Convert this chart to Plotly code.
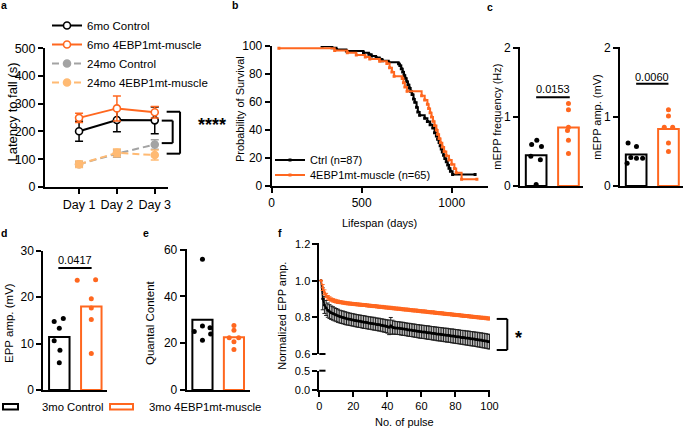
import numpy as np
import plotly.graph_objects as go

W, H = 685, 429
FONT = "Liberation Sans, Arial, Helvetica, sans-serif"
ORANGE = "#FF671F"
LIGHT_ORANGE = "#FFBA73"
GRAY = "#A3A3A3"


def px(x):
    return x / W


def py(y):
    return 1 - y / H


# ---------------- data ----------------
# panel a : rotarod
days = ["Day 1", "Day 2", "Day 3"]
ctrl6_mean = [201, 241, 240]
ctrl6_sem = [36, 42, 48]
mut6_mean = [249, 283, 269]
mut6_sem = [17, 45, 21]
ctrl24_mean = [82, 120, 153]
ctrl24_sem = [10, 13, 17]
mut24_mean = [82, 123, 115]
mut24_sem = [12, 14, 18]

# panel b : survival (step points)
ctrl_days = [280, 335, 360, 415, 510, 540, 555, 580, 600, 615, 650, 705, 712, 720, 728,
             735, 742, 750, 757, 765, 772, 780, 788, 795, 805, 812, 822, 850, 865, 880, 895,
             905, 915, 922, 930, 936, 942, 948, 955, 962, 970, 978, 985, 993, 1005, 1130]
ctrl_surv = [100, 98.9, 97.7, 96.6, 95.4, 94.3, 93.1, 92.0, 90.8, 89.7, 88.5, 87.4, 86.2,
             83.9, 81.6, 79.3, 77.0, 74.7, 72.4, 70.1, 67.8, 65.5, 62.1, 59.8, 56.3, 52.9, 50.6,
             48.3, 46.0, 43.7, 41.4, 38.0, 35.6, 33.3, 31.0, 28.7, 26.4, 24.1, 21.8, 19.5, 17.2,
             14.9, 12.6, 10.3, 8.0, 8.0]
mut_days = [40, 350, 420, 470, 520, 545, 600, 640, 655, 668, 680, 725, 732, 740, 752, 833, 850,
            865, 872, 880, 888, 896, 905, 915, 922, 930, 938, 948, 958, 970, 985, 1000, 1015,
            1025, 1055, 1140]
mut_surv = [98.5, 96.9, 95.4, 93.8, 92.3, 90.8, 89.2, 87.7, 84.6, 81.5, 78.5, 76.9, 73.8, 70.8,
            67.7, 64.6, 61.5, 58.5, 55.4, 52.3, 49.2, 46.2, 43.1, 40.0, 36.9, 33.8, 30.8, 27.7,
            24.6, 21.5, 18.5, 15.4, 12.3, 9.2, 4.6, 4.6]

# panels c, d, e : per-animal values
mepp_freq_ctrl = [0.60, 0.66, 0.57, 0.43, 0.38, 0.02]
mepp_freq_mut = [1.19, 1.10, 0.85, 0.80, 0.66, 0.47]
mepp_amp_ctrl = [0.62, 0.57, 0.41, 0.40, 0.40, 0.33]
mepp_amp_mut = [1.10, 1.01, 0.85, 0.85, 0.62, 0.50]
epp_amp_ctrl = [14.8, 15.4, 13.3, 10.6, 8.6, 5.9]
epp_amp_mut = [23.7, 23.8, 19.7, 17.7, 15.2, 7.9]
qc_ctrl = [55.8, 25.0, 27.3, 26.6, 23.9, 21.3]
qc_mut = [27.5, 25.5, 22.3, 22.3, 20.6, 17.3]
p_freq, p_amp, p_epp = "0.0153", "0.0060", "0.0417"

# panel f : normalized EPP amplitude, pulses 1..100
pulse_no = list(range(1, 101))
f_upper_ticks = [0.6, 0.8, 1.0, 1.2]
f_upper_ticktext = ["0.6", "0.8", "1.0", "1.2"]
f_ctrl_mean = [1.000, 0.900, 0.866, 0.850, 0.838, 0.830, 0.824, 0.820, 0.815, 0.811,
               0.807, 0.803, 0.800, 0.798, 0.795, 0.792, 0.790, 0.788, 0.786, 0.784,
               0.782, 0.780, 0.778, 0.777, 0.775, 0.773, 0.772, 0.770, 0.768, 0.767,
               0.765, 0.764, 0.762, 0.760, 0.759, 0.757, 0.755, 0.753, 0.751, 0.748,
               0.744, 0.752, 0.745, 0.742, 0.741, 0.740, 0.739, 0.737, 0.736, 0.735,
               0.733, 0.731, 0.730, 0.729, 0.727, 0.726, 0.724, 0.723, 0.721, 0.720,
               0.719, 0.718, 0.716, 0.715, 0.714, 0.712, 0.711, 0.710, 0.708, 0.707,
               0.706, 0.705, 0.703, 0.702, 0.701, 0.700, 0.698, 0.697, 0.696, 0.694,
               0.693, 0.692, 0.690, 0.689, 0.688, 0.686, 0.685, 0.684, 0.682, 0.681,
               0.680, 0.678, 0.677, 0.675, 0.674, 0.672, 0.671, 0.669, 0.667, 0.665]
f_ctrl_sem = [0.000, 0.060, 0.046, 0.041, 0.039, 0.038, 0.037, 0.037, 0.036, 0.036,
              0.036, 0.035, 0.035, 0.035, 0.035, 0.035, 0.034, 0.034, 0.034, 0.034,
              0.034, 0.034, 0.034, 0.034, 0.034, 0.035, 0.034, 0.034, 0.034, 0.034,
              0.034, 0.035, 0.034, 0.034, 0.035, 0.034, 0.035, 0.035, 0.035, 0.036,
              0.040, 0.046, 0.038, 0.036, 0.035, 0.035, 0.035, 0.035, 0.036, 0.035,
              0.035, 0.035, 0.036, 0.035, 0.035, 0.036, 0.035, 0.036, 0.036, 0.036,
              0.036, 0.036, 0.036, 0.037, 0.036, 0.036, 0.037, 0.036, 0.037, 0.037,
              0.037, 0.037, 0.037, 0.037, 0.038, 0.037, 0.037, 0.038, 0.038, 0.038,
              0.038, 0.038, 0.038, 0.038, 0.039, 0.038, 0.039, 0.039, 0.039, 0.039,
              0.039, 0.039, 0.040, 0.039, 0.040, 0.040, 0.040, 0.040, 0.040, 0.040]
f_mut_mean = [1.000, 0.962, 0.936, 0.919, 0.908, 0.901, 0.896, 0.892, 0.889, 0.886,
              0.884, 0.882, 0.881, 0.879, 0.878, 0.876, 0.875, 0.874, 0.873, 0.872,
              0.871, 0.870, 0.869, 0.868, 0.867, 0.866, 0.866, 0.864, 0.863, 0.862,
              0.861, 0.860, 0.860, 0.858, 0.857, 0.856, 0.856, 0.854, 0.853, 0.852,
              0.851, 0.851, 0.849, 0.848, 0.847, 0.846, 0.846, 0.844, 0.843, 0.842,
              0.841, 0.841, 0.839, 0.838, 0.837, 0.836, 0.836, 0.834, 0.833, 0.832,
              0.831, 0.831, 0.829, 0.828, 0.827, 0.826, 0.826, 0.824, 0.823, 0.822,
              0.821, 0.821, 0.819, 0.818, 0.817, 0.816, 0.816, 0.814, 0.813, 0.812,
              0.811, 0.811, 0.809, 0.808, 0.807, 0.806, 0.806, 0.804, 0.803, 0.802,
              0.801, 0.800, 0.799, 0.798, 0.797, 0.796, 0.796, 0.794, 0.793, 0.792]
f_mut_sem = [0.000, 0.016, 0.013, 0.011, 0.010, 0.010, 0.009, 0.009, 0.009, 0.009,
             0.009, 0.008, 0.008, 0.008, 0.008, 0.008, 0.008, 0.008, 0.008, 0.008,
             0.008, 0.008, 0.008, 0.008, 0.008, 0.008, 0.008, 0.008, 0.008, 0.008,
             0.008, 0.008, 0.008, 0.008, 0.008, 0.008, 0.008, 0.008, 0.008, 0.008,
             0.008, 0.008, 0.008, 0.008, 0.008, 0.008, 0.008, 0.008, 0.008, 0.008,
             0.008, 0.008, 0.008, 0.008, 0.008, 0.008, 0.008, 0.008, 0.008, 0.008,
             0.008, 0.008, 0.008, 0.008, 0.008, 0.008, 0.008, 0.008, 0.008, 0.008,
             0.008, 0.008, 0.008, 0.008, 0.008, 0.008, 0.008, 0.008, 0.008, 0.008,
             0.008, 0.008, 0.008, 0.008, 0.008, 0.008, 0.008, 0.008, 0.008, 0.008,
             0.008, 0.008, 0.008, 0.008, 0.008, 0.008, 0.008, 0.008, 0.008, 0.008]

# ---------------- figure ----------------
fig = go.Figure()

# panel a
a_series = [
    ("6mo Control", ctrl6_mean, ctrl6_sem, "black", "solid", "white"),
    ("6mo 4EBP1mt-muscle", mut6_mean, mut6_sem, ORANGE, "solid", "white"),
    ("24mo Control", ctrl24_mean, ctrl24_sem, GRAY, "7px,4px", GRAY),
    ("24mo 4EBP1mt-muscle", mut24_mean, mut24_sem, LIGHT_ORANGE, "7px,4px", LIGHT_ORANGE),
]
for name, m, e, c, dash, fill in a_series:
    fig.add_trace(go.Scatter(
        x=days, y=m, name=name, mode="lines+markers",
        line=dict(color=c, width=2, dash=dash),
        marker=dict(symbol="circle", size=7, color=fill, line=dict(color=c, width=1.6)),
        error_y=dict(type="data", array=e, color=c, thickness=1.5, width=4),
        xaxis="x", yaxis="y", legend="legend", cliponaxis=False))

# panel b
fig.add_trace(go.Scatter(
    x=ctrl_days, y=ctrl_surv, name="Ctrl (n=87)", mode="lines+markers",
    line=dict(color="black", width=2, shape="hv"),
    marker=dict(symbol="square", size=3, color="black"),
    xaxis="x2", yaxis="y2", legend="legend2"))
fig.add_trace(go.Scatter(
    x=mut_days, y=mut_surv, name="4EBP1mt-muscle (n=65)", mode="lines+markers",
    line=dict(color=ORANGE, width=2, shape="hv"),
    marker=dict(symbol="square", size=3, color=ORANGE),
    xaxis="x2", yaxis="y2", legend="legend3"))

# bar + dot panels
jit = {
    "c1": ([-0.14, 0.02, 0.165, -0.165, 0.13, 0.0], [0.0, 0.0, 0.0, -0.03, 0.0, 0.0]),
    "c2": ([-0.25, 0.01, -0.165, 0.01, 0.2, -0.28], [0.0, 0.0, -0.13, 0.13, 0.0, 0.0]),
    "d": ([-0.16, 0.125, 0.0, -0.16, 0.02, 0.0], [-0.44, 0.135, 0.0, 0.0, 0.0, 0.0]),
    "e": ([0.0, -0.26, 0.0, 0.24, 0.26, 0.0], [0.0, 0.0, -0.15, 0.15, 0.0, 0.0]),
}


def bar_panel(key, xa, ya, ctrl_vals, mut_vals):
    cj, mj = jit[key]
    for i, (vals, j, col) in enumerate([(ctrl_vals, cj, "black"), (mut_vals, mj, ORANGE)]):
        fig.add_trace(go.Bar(
            x=[i], y=[float(np.mean(vals))], width=0.64,
            marker=dict(color="white", line=dict(color=col, width=2)),
            xaxis=xa, yaxis=ya, showlegend=False))
        fig.add_trace(go.Scatter(
            x=[i + o for o in j], y=vals, mode="markers",
            marker=dict(color=col, size=5),
            xaxis=xa, yaxis=ya, showlegend=False, cliponaxis=False))


bar_panel("c1", "x3", "y3", mepp_freq_ctrl, mepp_freq_mut)
bar_panel("c2", "x4", "y4", mepp_amp_ctrl, mepp_amp_mut)
bar_panel("d", "x5", "y5", epp_amp_ctrl, epp_amp_mut)
bar_panel("e", "x6", "y6", qc_ctrl, qc_mut)

# panel f
for mean, sem, col, ecol in [(f_ctrl_mean, f_ctrl_sem, "black", "#202020"),
                              (f_mut_mean, f_mut_sem, ORANGE, ORANGE)]:
    fig.add_trace(go.Scatter(
        x=pulse_no, y=mean, mode="lines+markers",
        line=dict(color=col, width=1.5),
        marker=dict(size=3, color=col),
        error_y=dict(type="data", array=sem, color=ecol, thickness=1, width=2),
        xaxis="x7", yaxis="y7", showlegend=False))
# lower (broken) segment of the f y-axis holds no data, only the axis
fig.add_trace(go.Scatter(x=[None], y=[None], mode="markers", xaxis="x8", yaxis="y8",
                         showlegend=False, hoverinfo="skip"))


# ---------------- axes ----------------
def axis(domain, rng, anchor, **kw):
    d = dict(domain=domain, range=rng, anchor=anchor, showline=True, linecolor="black",
             linewidth=2, ticks="outside", ticklen=5, tickwidth=2, tickcolor="black",
             showgrid=False, zeroline=False, automargin=False,
             tickfont=dict(size=11, color="black"))
    d.update(kw)
    return d


noticks = dict(ticks="", showticklabels=False)

layout_axes = dict(
    xaxis=axis([px(45), px(168)], [-0.9, 2.35], "y", type="category",
               tickfont=dict(size=12.5, color="black")),
    yaxis=axis([py(187), py(48)], [0, 500.5], "x", tickvals=[0, 100, 200, 300, 400, 500],
               tickfont=dict(size=12.5, color="black")),
    xaxis2=axis([px(271.7), px(487.7)], [0, 1200], "y2", tickvals=[0, 500, 1000],
                tickfont=dict(size=12, color="black")),
    yaxis2=axis([py(185.7), py(46)], [0, 100.2], "x2", tickvals=[0, 20, 40, 60, 80, 100],
                tickfont=dict(size=12, color="black")),
    xaxis3=axis([px(520), px(583)], [-0.5, 1.45], "y3", **noticks),
    yaxis3=axis([py(186), py(47.3)], [0, 2.003], "x3", tickvals=[0, 1, 2],
                tickfont=dict(size=12, color="black")),
    xaxis4=axis([px(620), px(683)], [-0.5, 1.45], "y4", **noticks),
    yaxis4=axis([py(186), py(47.3)], [0, 2.003], "x4", tickvals=[0, 1, 2],
                tickfont=dict(size=12, color="black")),
    xaxis5=axis([px(43.3), px(107.3)], [-0.5, 1.5], "y5", **noticks),
    yaxis5=axis([py(390), py(250.7)], [0, 30.05], "x5", tickvals=[0, 10, 20, 30],
                tickfont=dict(size=12, color="black")),
    xaxis6=axis([px(186.7), px(249.7)], [-0.5, 1.5], "y6", **noticks),
    yaxis6=axis([py(390), py(249.3)], [0, 60.1], "x6", tickvals=[0, 20, 40, 60],
                tickfont=dict(size=12, color="black")),
    xaxis7=axis([px(319.3), px(490)], [0, 100], "y7", matches="x8", visible=False),
    yaxis7=axis([py(354), py(243.3)], [0.598, 1.204], "x7", tickvals=f_upper_ticks,
                showticklabels=False),
    xaxis8=axis([px(319.3), px(490)], [0, 100.3], "y8", tickvals=[0, 20, 40, 60, 80, 100]),
    yaxis8=axis([py(390), py(370.7)], [0, 0.501], "x8", tickvals=[0, 0.5],
                ticktext=["0.0", "0.5"]),
)

# ---------------- annotations ----------------
annotations = []


def ann(text, x, y, size=11, bold=False, angle=0, xanchor="center", yanchor="middle",
        xref="paper", yref="paper"):
    annotations.append(dict(
        text=f"<b>{text}</b>" if bold else text, x=x, y=y, xref=xref, yref=yref,
        xanchor=xanchor, yanchor=yanchor, textangle=angle, showarrow=False,
        font=dict(size=size, color="black", family=FONT)))


# panel letters
for letter, (lx, ly) in {"a": (4, 5), "b": (235, 5), "c": (489.5, 7), "d": (4, 233),
                         "e": (146, 233), "f": (279.7, 233)}.items():
    ann(letter, px(lx), py(ly), size=10.5, bold=True)

# axis titles
ann("Latency to fall (s)", px(12), py(112.5), size=13, angle=-90)
ann("Probability of Survival", px(240), py(109), size=11, angle=-90)
ann("Lifespan (days)", px(379.7), py(223), size=11)
ann("mEPP frequency (Hz)", px(496.7), py(117), size=11, angle=-90)
ann("mEPP amp. (mV)", px(596.7), py(117), size=11, angle=-90)
ann("EPP amp. (mV)", px(9), py(323), size=11.5, angle=-90)
ann("Quantal Content", px(150), py(323), size=11.5, angle=-90)
ann("Normalized EPP amp.", px(281.7), py(316), size=11, angle=-90)
ann("No. of pulse", px(404.7), py(421.7), size=11)

# tick labels of the upper segment of the f y-axis
for tv, tt in zip(f_upper_ticks, f_upper_ticktext):
    ann(tt, px(311.5), tv, size=11, xanchor="right", yref="y7")

# p-values
ann(p_freq, 0.52, 1.40, size=11, xref="x3", yref="y3")
ann(p_amp, 0.5, 1.58, size=11, xref="x4", yref="y4")
ann(p_epp, 0.49, 28.0, size=11, xref="x5", yref="y5")

# significance stars
ann("****", 1.36, 222, size=18, bold=True, xref="x domain", yref="y")
ann("*", px(518.3), py(338), size=18, bold=True)

# bottom legend texts
ann("3mo Control", px(40), py(407), size=11.3, xanchor="left")
ann("3mo 4EBP1mt-muscle", px(146.7), py(407), size=11.3, xanchor="left")

# ---------------- shapes ----------------
shapes = []


def seg(x0, y0, x1, y1, xref="paper", yref="paper", color="black", width=2):
    shapes.append(dict(type="line", x0=x0, y0=y0, x1=x1, y1=y1, xref=xref, yref=yref,
                       line=dict(color=color, width=width)))


# significance lines
seg(0.0, 1.28, 1.04, 1.28, "x3", "y3")
seg(0.0, 1.475, 1.0, 1.475, "x4", "y4")
seg(-0.03, 26.3, 1.01, 26.3, "x5", "y5")

# panel a brackets (outer, inner)
for x0, x1, ytop, ybot in [(0.989, 1.098, 271, 120), (0.949, 1.038, 239, 158)]:
    seg(x0, ytop, x1, ytop, "x domain", "y")
    seg(x1, ytop, x1, ybot, "x domain", "y")
    seg(x0, ybot, x1, ybot, "x domain", "y")

# panel f bracket
for (x0, y0, x1, y1) in [(px(496.7), 0.79, px(507.3), 0.79),
                         (px(507.3), 0.79, px(507.3), 0.62),
                         (px(496.7), 0.62, px(507.3), 0.62)]:
    seg(x0, y0, x1, y1, "paper", "y7")

# broken-axis marks on f
seg(px(319.3), py(354), px(325.5), py(354))
seg(px(319.3), py(370.7), px(325.5), py(370.7))

# bottom legend boxes
shapes.append(dict(type="rect", x0=px(3), x1=px(18), y0=py(404), y1=py(409.5), xref="paper",
                   yref="paper", line=dict(color="black", width=2), fillcolor="white"))
shapes.append(dict(type="rect", x0=px(110), x1=px(133), y0=py(404), y1=py(409.5), xref="paper",
                   yref="paper", line=dict(color=ORANGE, width=2), fillcolor="white"))

leg_common = dict(xanchor="left", bgcolor="rgba(0,0,0,0)", borderwidth=0,
                  xref="container", yref="container",
                  itemclick=False, itemdoubleclick=False)

fig.update_layout(
    width=W, height=H, autosize=False,
    margin=dict(l=0, r=0, t=0, b=0, pad=0, autoexpand=False),
    paper_bgcolor="white", plot_bgcolor="white",
    font=dict(family=FONT, size=11, color="black"),
    barmode="overlay",
    legend=dict(x=px(47), y=py(11), yanchor="top", font=dict(size=11.5), tracegroupgap=0,
                **leg_common),
    legend2=dict(x=px(270), y=py(160), yanchor="middle", font=dict(size=11), **leg_common),
    legend3=dict(x=px(270), y=py(175), yanchor="middle", font=dict(size=11), **leg_common),
    annotations=annotations,
    shapes=shapes,
    **layout_axes,
)

fig.write_html(
    "out.html",
    config={"displayModeBar": False, "staticPlot": True},
    post_script="document.body.style.margin='0';document.body.style.padding='0';",
)
